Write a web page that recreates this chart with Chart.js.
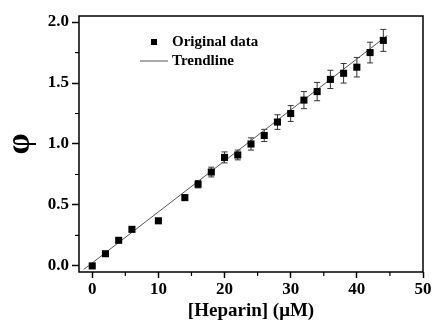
<!DOCTYPE html>
<html><head><meta charset="utf-8">
<script src="https://cdn.jsdelivr.net/npm/chart.js@4.4.1/dist/chart.umd.min.js"></script>
<style>html,body{margin:0;padding:0;background:#fff}</style>
</head><body><canvas id="c" width="434" height="322"></canvas>
<script>
const heparin = [0,2,4,6,10,14,16,18,20,22,24,26,28,30,32,34,36,38,40,42,44];
const phi = [0.00,0.10,0.21,0.30,0.37,0.56,0.67,0.77,0.89,0.91,1.00,1.07,1.18,1.25,1.36,1.43,1.53,1.58,1.63,1.75,1.85];
const phiErr = [0,0,0,0,0,0.02,0.03,0.04,0.045,0.04,0.05,0.05,0.06,0.065,0.07,0.075,0.075,0.08,0.08,0.085,0.09];
const trendX = [-1.3,44.6];
const trendY = [-0.03,1.89];
const xTicks = [0,10,20,30,40,50];
const xMinor = [5,15,25,35,45];
const yTicks = [0,0.5,1.0,1.5,2.0];
const yMinor = [0.25,0.75,1.25,1.75];
const legendLabels = ['Original data','Trendline'];

const FONT = '"Liberation Serif","Times New Roman",serif';

const errPlugin = {
  id:'err',
  beforeDatasetsDraw(chart){
    const {ctx, scales:{x,y}} = chart;
    ctx.save();
    ctx.strokeStyle = '#333';
    ctx.lineWidth = 1;
    heparin.forEach((xv,i)=>{
      const e = phiErr[i]; if(!e) return;
      const px = x.getPixelForValue(xv);
      const y1 = y.getPixelForValue(phi[i]+e), y2 = y.getPixelForValue(phi[i]-e);
      ctx.beginPath();
      ctx.moveTo(px,y1); ctx.lineTo(px,y2);
      ctx.moveTo(px-3,y1); ctx.lineTo(px+3,y1);
      ctx.moveTo(px-3,y2); ctx.lineTo(px+3,y2);
      ctx.stroke();
    });
    ctx.restore();
  },
  afterDraw(chart){
    const {ctx, chartArea:a, scales:{x,y}} = chart;
    ctx.save();
    ctx.strokeStyle = '#000';
    ctx.lineWidth = 1.5;
    ctx.strokeRect(a.left, a.top, a.right-a.left, a.bottom-a.top);
    ctx.lineWidth = 1.2;
    ctx.beginPath();
    xMinor.forEach(v=>{const p=x.getPixelForValue(v); ctx.moveTo(p,a.bottom); ctx.lineTo(p,a.bottom+4);});
    yMinor.forEach(v=>{const p=y.getPixelForValue(v); ctx.moveTo(a.left,p); ctx.lineTo(a.left-4,p);});
    ctx.stroke();
    // legend
    ctx.fillStyle = '#000';
    ctx.fillRect(151,39,6,6);
    ctx.strokeStyle = '#555';
    ctx.lineWidth = 1;
    ctx.beginPath(); ctx.moveTo(140,61); ctx.lineTo(168,61); ctx.stroke();
    ctx.font = 'bold 15px '+FONT;
    ctx.textBaseline = 'middle';
    ctx.fillText(legendLabels[0],172,42);
    ctx.fillText(legendLabels[1],172,61);
    ctx.restore();
  }
};

new Chart(document.getElementById('c'),{
  type:'scatter',
  data:{datasets:[
    {label:legendLabels[0], data:heparin.map((v,i)=>({x:v,y:phi[i]})), pointStyle:'rect', pointRadius:5, pointHoverRadius:5, backgroundColor:'#000', borderWidth:0, order:1},
    {label:legendLabels[1], data:trendX.map((v,i)=>({x:v,y:trendY[i]})), showLine:true, pointRadius:0, borderColor:'#555', borderWidth:1, order:2}
  ]},
  options:{
    responsive:false, animation:false,
    layout:{padding:{top:16,right:11,left:0,bottom:0}},
    plugins:{legend:{display:false}, tooltip:{enabled:false}},
    scales:{
      x:{type:'linear', min:-2, max:50,
        afterBuildTicks(s){ s.ticks = xTicks.map(v=>({value:v})); },
        afterFit(s){ s.height = 50; },
        grid:{display:true, drawOnChartArea:false, drawTicks:true, tickLength:6, tickColor:'#000', tickWidth:1.5},
        border:{display:false},
        ticks:{color:'#000', padding:1, font:{family:FONT, size:17, weight:'bold'}, maxRotation:0},
        title:{display:true, text:'[Heparin] (μM)', color:'#000', padding:0, font:{family:FONT, size:19, weight:'bold'}}
      },
      y:{type:'linear', min:-0.05, max:2.05,
        afterBuildTicks(s){ s.ticks = yTicks.map(v=>({value:v})); },
        afterFit(s){ s.width = 79; },
        grid:{display:true, drawOnChartArea:false, drawTicks:true, tickLength:7, tickColor:'#000', tickWidth:1.5},
        border:{display:false},
        ticks:{color:'#000', padding:3, font:{family:FONT, size:17, weight:'bold'}, callback:v=>Number(v).toFixed(1)},
        title:{display:true, text:'φ', color:'#000', padding:0, font:{family:FONT, size:34, weight:'bold'}}
      }
    }
  },
  plugins:[errPlugin]
});
</script></body></html>
